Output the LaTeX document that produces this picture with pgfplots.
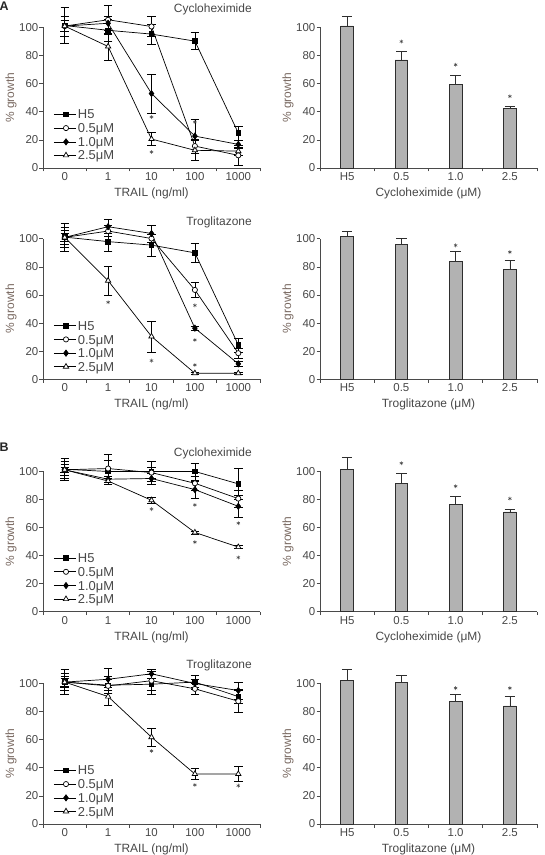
\documentclass[border=0pt]{standalone}
\usepackage{fontspec}
\setmainfont{Liberation Sans}
\usepackage{pgfplots}
\usepackage{pgfplotstable}
\pgfplotsset{compat=1.18}

\definecolor{tick}{HTML}{474747}
\definecolor{ylab}{HTML}{7A6A62}
\definecolor{axisc}{HTML}{4A4A4A}
\definecolor{barfill}{HTML}{B2B2B2}
\definecolor{bardraw}{HTML}{2E2E2E}

% ---------- data: TRAIL dose response (mean, s.d.) ----------
\pgfplotstableread{
x h5    eh5  c05   ec05 c10   ec10 c25   ec25
0 101.4 13   101   7    101   4    101   4
1 98    8    105.5 10   103   5    86.5  9.5
2 95.3  7    100.7 7    53    14   20.6  4.5
3 90.3  6    15.6  5    22.7  12   12.6  7
4 24.9  5    9     7    16.8  3    12    3
}\cycA
\pgfplotstableread{
x h5    eh5  c05   ec05 c10   ec10 c25   ec25
0 101.2 10   101   7    101   5    101   3
1 98    7    105.5 4    108.6 5    70.2  10.5
2 95.5  8    100.2 3    103.8 6    30.5  11
3 90    6.5  63.6  5.5  36.4  1.5  4.3   1
4 24.5  5    18.6  3.5  11    1.5  4.3   1
}\troA
\pgfplotstableread{
x h5    eh5  c05   ec05 c10   ec10 c25   ec25
0 101.4 8    101   6    101   4    101   2
1 99.8  8    101.9 10   94.3  2    93    2
2 99.8  7    99    4    94.8  4    79.3  2
3 99.8  6    91.4  5    86.9  6    56.4  1
4 91    11   80.5  6    75    8    46    1
}\cycB
\pgfplotstableread{
x h5    eh5  c05   ec05 c10   ec10 c25   ec25
0 101   9    101   6    101   4    101   3
1 98.8  6    98.3  5    103   8    90.7  6.5
2 99.5  7    102   7    106.9 3    61.8  6.5
3 101   5    96.2  4    100   3    35.6  4
4 90.7  5    87.4  8    95    6    35.6  5.5
}\troB

% ---------- data: drug alone (mean, s.d.) ----------
\pgfplotstableread{
x y     e
0 101.2 6.8
1 77    5.7
2 59.5  6.5
3 42.2  1.8
}\barCycA
\pgfplotstableread{
x y     e
0 101.9 3.6
1 96.2  4.3
2 84    7.2
3 78    6.8
}\barTroA
\pgfplotstableread{
x y     e
0 101.4 8.6
1 91.2  7.1
2 76.2  5.9
3 71    2
}\barCycB
\pgfplotstableread{
x y     e
0 102.1 7.9
1 101   5
2 87.2  5.2
3 84.1  6.6
}\barTroB

\tikzset{
  title text/.style={anchor=east, font=\fontsize{12}{14}\selectfont, text=tick},
  key text/.style={anchor=west, inner sep=0pt, text height=9.3bp, text depth=0pt,
    font=\fontsize{13}{15}\selectfont, text=tick},
  panel letter/.style={font=\bfseries\fontsize{12.5}{14}\selectfont, text=black!85},
}

\pgfplotsset{
  panel/.style={
    scale only axis, width=217bp, height=140.5bp,
    axis lines*=left,
    axis line style={-, draw=axisc, line width=0.7bp},
    ymin=0, ymax=100, ytick={0,20,...,100},
    tick align=outside, major tick length=3.5bp,
    tick style={draw=axisc, line width=0.7bp},
    x tick label as interval,
    clip=false,
    /pgf/number format/assume math mode=true,
    tick label style={font=\fontsize{11.5}{13}\selectfont, text=tick, inner sep=1bp},
    ylabel={\% growth},
    every axis y label/.style={at={([xshift=-29bp]axis description cs:0,0.5)},
      rotate=90, anchor=base, font=\fontsize{12}{14}\selectfont, text=ylab},
    every axis x label/.style={at={([yshift=-28.7bp]axis description cs:0.5,0)},
      anchor=base, font=\fontsize{12}{14}\selectfont, text=tick},
  },
  linepanel/.style={
    panel, xmin=-0.5, xmax=4.5,
    xtick={-0.5,0.5,1.5,2.5,3.5,4.5}, xticklabels={0,1,10,100,1000},
    xlabel={TRAIL (ng/ml)},
  },
  barpanel/.style={
    panel, xmin=-0.5, xmax=3.5,
    xtick={-0.5,0.5,1.5,2.5,3.5}, xticklabels={H5,0.5,1.0,2.5},
  },
  ser/.style={black, line width=0.7bp},
  h5/.style={ser, mark=square*, mark size=2.3bp, mark options={solid, fill=black}},
  c05/.style={ser, mark=*, mark size=2.6bp, mark options={solid, fill=white}},
  c10/.style={ser, mark=diamond*, mark size=3.1bp, mark options={solid, fill=black}},
  c25/.style={ser, mark=triangle*, mark size=3.1bp, mark options={solid, fill=white}},
  errs/.style={forget plot, draw=none, mark=none,
    error bars/.cd, y dir=both, y explicit,
    error bar style={draw=black, line width=0.6bp},
    error mark options={rotate=90, mark size=4.2bp, draw=black, line width=0.6bp}},
  stars/.style={forget plot, only marks, mark=asterisk, mark size=1.9bp,
    mark options={draw=tick, line width=0.5bp}},
  bars/.style={ybar, bar width=12.7bp, fill=barfill, draw=bardraw, line width=0.6bp,
    error bars/.cd, y dir=plus, y explicit,
    error bar style={draw=bardraw, line width=0.6bp},
    error mark options={rotate=90, mark size=5.3bp, draw=bardraw, line width=0.6bp}},
}

% key entry: short line with the series mark in it, then its label
\newcommand{\keyentry}[3]{%
  \addplot[#1, forget plot, mark indices={2}]
    coordinates {(-0.25,#3) (0.03,#3) (0.25,#3)};
  \node[key text] at (axis cs:0.30,#3) {#2};
}

\newcommand{\doseplots}[1]{%
  \addplot[errs] table[x=x, y=h5,  y error=eh5]  {#1};
  \addplot[errs] table[x=x, y=c05, y error=ec05] {#1};
  \addplot[errs] table[x=x, y=c10, y error=ec10] {#1};
  \addplot[errs] table[x=x, y=c25, y error=ec25] {#1};
  \addplot[h5]  table[x=x, y=h5]  {#1};
  \addplot[c05] table[x=x, y=c05] {#1};
  \addplot[c10] table[x=x, y=c10] {#1};
  \addplot[c25] table[x=x, y=c25] {#1};
  \keyentry{h5}{H5}{38.2}
  \keyentry{c05}{0.5μM}{28.4}
  \keyentry{c10}{1.0μM}{18.6}
  \keyentry{c25}{2.5μM}{9.0}
}

\begin{document}
\begin{tikzpicture}
\useasboundingbox (0,0) rectangle (545bp,855bp);

\node[panel letter] at (4bp,848.5bp) {A};
\node[panel letter] at (4bp,408bp) {B};

% ----- A: cycloheximide + TRAIL -----
\begin{axis}[linepanel, at={(43bp,687bp)}, anchor=south west]
  \doseplots{\cycA}
  \addplot[stars] coordinates {(2,36.3) (2,11.4) (3,32.7)};
  \node[title text] at (axis cs:4.39,112.6) {Cycloheximide};
\end{axis}
\begin{axis}[barpanel, at={(320bp,687bp)}, anchor=south west,
  xlabel={Cycloheximide (μM)}]
  \addplot[bars] table[x=x, y=y, y error=e] {\barCycA};
  \addplot[stars] coordinates {(1,90) (2,73.5) (3,51)};
\end{axis}

% ----- A: troglitazone + TRAIL -----
\begin{axis}[linepanel, at={(43bp,475.7bp)}, anchor=south west]
  \doseplots{\troA}
  \addplot[stars] coordinates {(1,54.8) (2,13.3) (3,52.6) (3,28) (3,10.2)};
  \node[title text] at (axis cs:4.39,111.8) {Troglitazone};
\end{axis}
\begin{axis}[barpanel, at={(320bp,475.7bp)}, anchor=south west,
  xlabel={Troglitazone (μM)}]
  \addplot[bars] table[x=x, y=y, y error=e] {\barTroA};
  \addplot[stars] coordinates {(2,95.3) (3,90.5)};
\end{axis}

% ----- B: cycloheximide + TRAIL -----
\begin{axis}[linepanel, at={(43bp,243.3bp)}, anchor=south west]
  \doseplots{\cycB}
  \addplot[stars] coordinates {(2,73) (3,76) (3,49.5) (4,63) (4,38.6)};
  \node[title text] at (axis cs:4.39,112.6) {Cycloheximide};
\end{axis}
\begin{axis}[barpanel, at={(320bp,243.3bp)}, anchor=south west,
  xlabel={Cycloheximide (μM)}]
  \addplot[bars] table[x=x, y=y, y error=e] {\barCycB};
  \addplot[stars] coordinates {(1,105.7) (2,89.3) (3,80.5)};
\end{axis}

% ----- B: troglitazone + TRAIL -----
\begin{axis}[linepanel, at={(43bp,31bp)}, anchor=south west]
  \doseplots{\troB}
  \addplot[stars] coordinates {(2,52) (3,27.8) (4,27.3)};
  \node[title text] at (axis cs:4.39,112.8) {Troglitazone};
\end{axis}
\begin{axis}[barpanel, at={(320bp,31bp)}, anchor=south west,
  xlabel={Troglitazone (μM)}]
  \addplot[bars] table[x=x, y=y, y error=e] {\barTroB};
  \addplot[stars] coordinates {(2,96.7) (3,96.7)};
\end{axis}
\end{tikzpicture}
\end{document}
